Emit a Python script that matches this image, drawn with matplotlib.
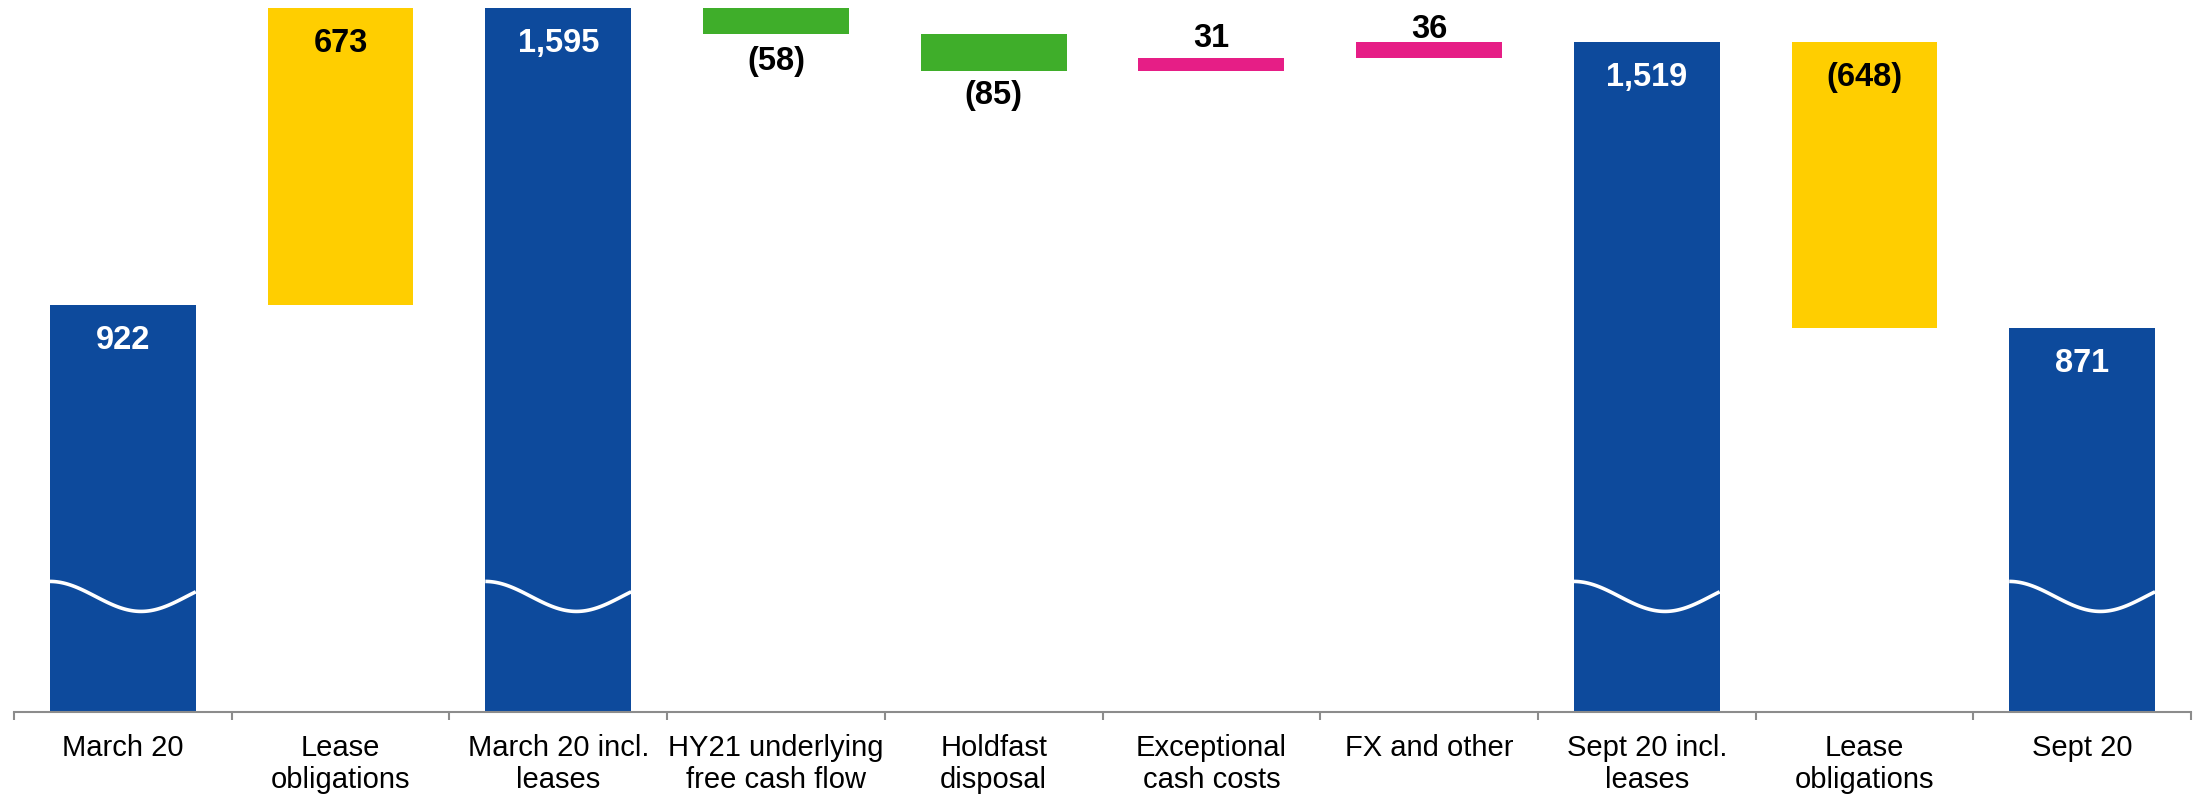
import numpy as np
import matplotlib
matplotlib.use('Agg')
import matplotlib.pyplot as plt

plt.rcParams['font.family'] = ['Liberation Sans', 'DejaVu Sans']

# Net debt bridge (GBP m)
categories = ['March 20', 'Lease\nobligations', 'March 20 incl.\nleases',
              'HY21 underlying\nfree cash flow', 'Holdfast\ndisposal',
              'Exceptional\ncash costs', 'FX and other', 'Sept 20 incl.\nleases',
              'Lease\nobligations', 'Sept 20']
values = [922, 673, 1595, -58, -85, 31, 36, 1519, -648, 871]
kinds = ['total', 'lease', 'total', 'fcf', 'fcf', 'cost', 'cost', 'total', 'lease', 'total']

colors = {'total': '#0D4A9C', 'lease': '#FFCE00', 'fcf': '#3FAE2A', 'cost': '#E61E86'}

# work out bar bottoms/heights for the waterfall
bottoms, heights = [], []
running = 0
for v, k in zip(values, kinds):
    if k == 'total':
        bottoms.append(0)
        heights.append(v)
        running = v
    else:
        bottoms.append(min(running, running + v))
        heights.append(abs(v))
        running += v

def fmt(v):
    return f'({abs(v):,})' if v < 0 else f'{v:,}'

fig = plt.figure(figsize=(22.01, 7.99), dpi=100)
ax = fig.add_axes([14 / 2201, 87 / 799, 2177 / 2201, 712 / 799])

x = np.arange(len(categories))
bar_w = 0.67
ax.bar(x, heights, bottom=bottoms, width=bar_w,
       color=[colors[k] for k in kinds], zorder=2)

# decorative axis-break wave across the total bars
t = np.linspace(0, 1, 100)
for i, k in enumerate(kinds):
    if k != 'total':
        continue
    xs = x[i] - bar_w / 2 + t * bar_w
    ys = 262 + 34 * np.cos(np.pi * t / 0.625)
    ax.plot(xs, ys, color='white', lw=2.6, zorder=3, solid_capstyle='butt')

# value labels
lab = dict(ha='center', va='center', fontsize=23.5, fontweight='bold', zorder=4,
           textcoords='offset points')
n_fcf = 0
for i, (v, k) in enumerate(zip(values, kinds)):
    top = bottoms[i] + heights[i]
    if k in ('total', 'lease'):
        ax.annotate(fmt(v), (x[i], top), xytext=(0, -25.5),
                    color='white' if k == 'total' else 'black', **lab)
    elif k == 'fcf':
        ax.annotate(fmt(v), (x[i], bottoms[i]), xytext=(0, -20 if n_fcf == 0 else -17), **lab)
        n_fcf += 1
    else:
        ax.annotate(fmt(v), (x[i], top), xytext=(0, 14 if v < 35 else 9), **lab)

ax.set_xlim(-0.5, len(categories) - 0.5)
ax.set_ylim(0, 1614)

for s in ['top', 'right', 'left']:
    ax.spines[s].set_visible(False)
ax.spines['bottom'].set_color('#8C8C8C')
ax.spines['bottom'].set_linewidth(1.5)
ax.set_yticks([])

ax.set_xticks(x)
ax.set_xticklabels(categories, fontsize=21, linespacing=1.2, va='top')
ax.tick_params(axis='x', which='major', length=0, pad=15.5)
ax.set_xticks(np.arange(-0.5, len(categories)), minor=True)
ax.tick_params(axis='x', which='minor', length=6, width=1.5, color='#8C8C8C')

fig.savefig('out.png', dpi=100)
